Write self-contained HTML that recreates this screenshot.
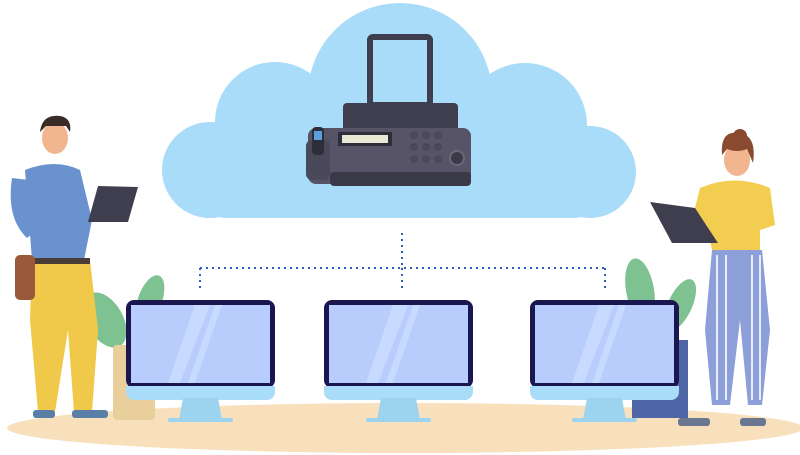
<!DOCTYPE html>
<html><head><style>html,body{margin:0;padding:0;background:#fff}svg{display:block}</style></head>
<body>
<svg width="800" height="455" viewBox="0 0 800 455" xmlns="http://www.w3.org/2000/svg">
<ellipse cx="405" cy="428" rx="398" ry="25" fill="#f9e0bc"/>
<g fill="#a9dcf8">
<circle cx="400" cy="95" r="92"/>
<circle cx="275" cy="122" r="60"/>
<circle cx="525" cy="125" r="62"/>
<circle cx="210" cy="170" r="48"/>
<circle cx="590" cy="172" r="46"/>
<rect x="205" y="140" width="390" height="78" rx="20"/>
</g>
<rect x="370" y="37" width="60" height="68" rx="3" fill="none" stroke="#3f3e4f" stroke-width="6"/>
<rect x="343" y="103" width="115" height="30" rx="4" fill="#3f3e4f"/>
<rect x="308" y="128" width="163" height="56" rx="8" fill="#565466"/>
<rect x="306" y="140" width="24" height="40" rx="6" fill="#4a4959"/>
<rect x="312" y="127" width="12" height="28" rx="4" fill="#2e2d3a"/>
<rect x="314" y="131" width="8" height="9" fill="#5aa0e0"/>
<rect x="338" y="132" width="54" height="14" fill="#2e2d3a"/>
<rect x="342" y="135" width="46" height="8" fill="#e9e8d4"/>
<g fill="#4a4959"><circle cx="414" cy="135" r="4"/><circle cx="426" cy="135" r="4"/><circle cx="438" cy="135" r="4"/><circle cx="414" cy="147" r="4"/><circle cx="426" cy="147" r="4"/><circle cx="438" cy="147" r="4"/><circle cx="414" cy="159" r="4"/><circle cx="426" cy="159" r="4"/><circle cx="438" cy="159" r="4"/></g>
<circle cx="457" cy="158" r="7" fill="#3a3947" stroke="#6a6879" stroke-width="2"/>
<rect x="330" y="172" width="141" height="14" rx="4" fill="#3a3947"/>
<g stroke="#2e5fb8" stroke-width="2" stroke-dasharray="2 4" fill="none">
<path d="M402 233V268M200 268H605M200 268V290M605 268V290M402 268V290"/>
</g>
<g fill="#7fc291">
<ellipse cx="105" cy="320" rx="18" ry="30" transform="rotate(-30 105 320)"/>
<ellipse cx="150" cy="300" rx="12" ry="26" transform="rotate(20 150 300)"/>
<ellipse cx="640" cy="290" rx="14" ry="32" transform="rotate(-10 640 290)"/>
<ellipse cx="680" cy="305" rx="12" ry="28" transform="rotate(25 680 305)"/>
</g>
<rect x="113" y="345" width="42" height="75" rx="4" fill="#e9cf9c"/>
<rect x="632" y="340" width="56" height="78" fill="#4f66a6"/>
<g id="m">
<rect x="126" y="300" width="149" height="88" rx="8" fill="#1a1650"/>
<rect x="131" y="305" width="139" height="78" fill="#b8cdfb"/>
<path d="M195 305L210 305L180 383L168 383Z" fill="#c8daff"/>
<path d="M215 305L222 305L195 383L188 383Z" fill="#c8daff"/>
<path d="M126 386H275V392a8 8 0 0 1-8 8H134a8 8 0 0 1-8-8Z" fill="#a9dcf8"/>
<path d="M183 398H218L222 420H179Z" fill="#9cd3ef"/>
<rect x="168" y="418" width="65" height="4" rx="2" fill="#9cd3ef"/>
</g>
<use href="#m" x="198"/>
<use href="#m" x="404"/>
<!-- man -->
<ellipse cx="55" cy="138" rx="13" ry="16" fill="#f1b58f"/>
<path d="M40 132q2-18 20-16q12 2 10 16l-4-6h-20z" fill="#3a2b26"/>
<path d="M25 170q30-12 55 0l12 50l-8 40H32z" fill="#6a92cf"/>
<path d="M32 260L90 260L98 330L92 412H74L68 330L55 412H38L30 320z" fill="#f0c84a"/>
<rect x="30" y="258" width="60" height="6" fill="#4a3d37"/>
<rect x="15" y="255" width="20" height="45" rx="5" fill="#9a5a3a"/>
<path d="M12 178q-6 40 15 60l10-8q-12-20-8-50z" fill="#6a92cf"/>
<path d="M98 186L138 187L128 222L88 222z" fill="#3f3e4f"/>
<rect x="33" y="410" width="22" height="8" rx="3" fill="#5a7fa6"/>
<rect x="72" y="410" width="36" height="8" rx="3" fill="#5a7fa6"/>
<!-- woman -->
<ellipse cx="737" cy="160" rx="13" ry="16" fill="#f1b58f"/>
<path d="M722 155q-2-25 17-22q18 2 14 30l-6-14q-10 4-20 0z" fill="#8a4a2f"/>
<circle cx="740" cy="136" r="7" fill="#8a4a2f"/>
<path d="M700 188q35-15 70 0l5 37l-15 5v20H712l-5-25l-15-5z" fill="#f3cd4f"/>
<path d="M712 250H762L770 330L762 405H748L740 320L730 405H712L705 330z" fill="#8c9fd8"/>
<g stroke="#e8ecfb" stroke-width="2"><path d="M717 255V400M726 255V400M752 255V400M760 255V400"/></g>
<path d="M650 202L695 208L718 243L672 243z" fill="#3f3e4f"/>
<rect x="678" y="418" width="32" height="8" rx="3" fill="#6a7790"/>
<rect x="740" y="418" width="26" height="8" rx="3" fill="#6a7790"/>
</svg>
</body></html>
